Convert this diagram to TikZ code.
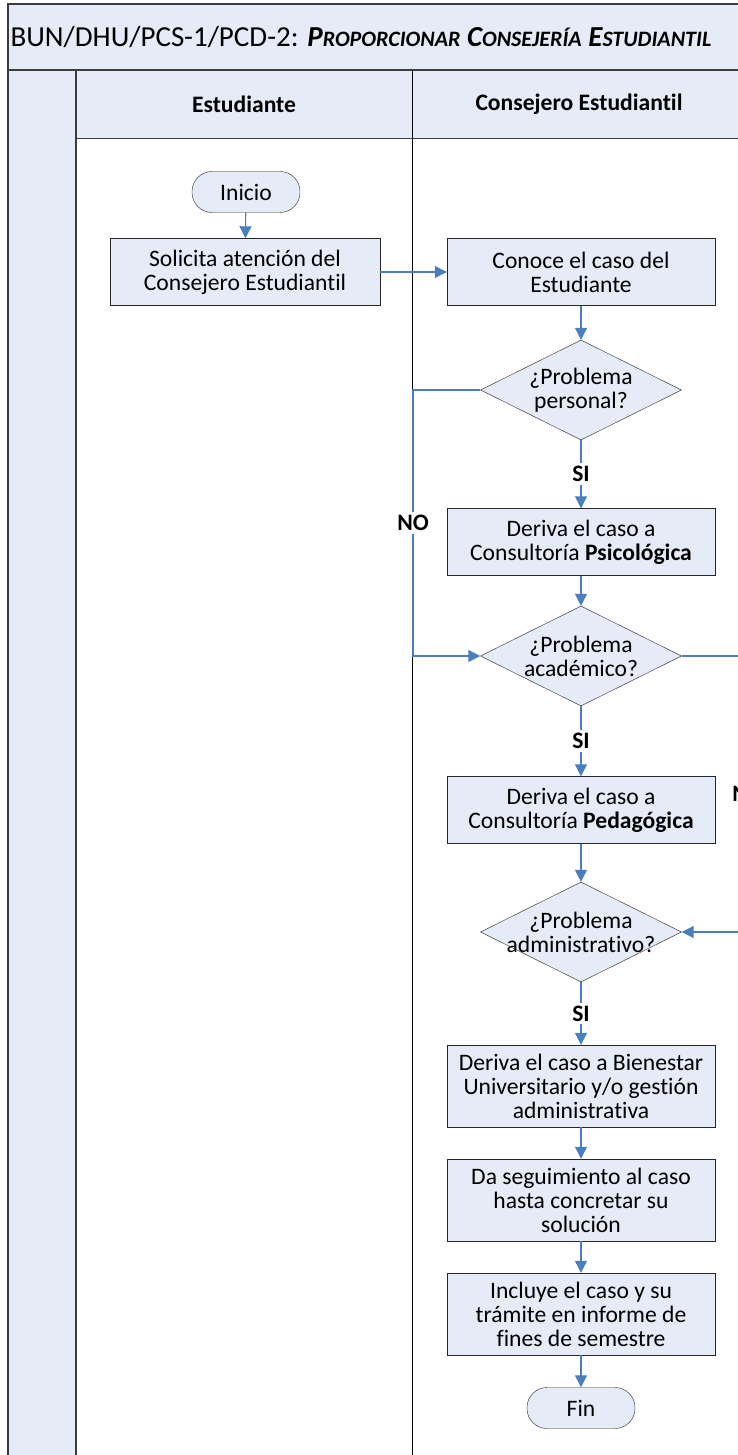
\documentclass[tikz,border=0pt]{standalone}
\usepackage{fontspec}
\setmainfont{Carlito}[Ligatures=NoCommon]
\usetikzlibrary{arrows.meta,shapes.geometric}
\definecolor{boxfill}{RGB}{230,236,247}
\definecolor{flowblue}{RGB}{74,126,188}
\definecolor{framegray}{RGB}{60,60,60}
\newcommand{\petitcaps}[1]{{\fontsize{22}{26}\selectfont #1}}
\begin{document}
\begin{tikzpicture}[x=1pt,y=-1pt,
		every node/.style={font=\fontsize{23.6}{24}\selectfont},
		proc/.style={draw=black!85,fill=boxfill,align=center,minimum width=268pt,minimum height=67pt,inner sep=2pt},
		proc3/.style={proc,minimum height=82pt},
		term/.style={draw=black!85,fill=boxfill,rounded corners=20pt,minimum width=108pt,minimum height=41pt},
		decision/.style={diamond,draw=black!85,fill=boxfill,minimum width=201pt,minimum height=100pt,inner sep=0pt},
		dtext/.style={align=center,inner sep=0pt},
		flow/.style={flowblue,line width=1.1pt,-{Triangle[length=12pt,width=12pt]}},
		lbl/.style={fill=white,text=black,font=\fontsize{23.6}{24}\selectfont\bfseries,inner sep=3pt}]
		\clip (0,0) rectangle (738,1455);
		
		% swimlane frame
		\fill[boxfill] (8,4) rectangle (770,138);
		\fill[boxfill] (8,138) rectangle (76,1460);
		\draw[framegray,line width=1.3pt] (770,4) -- (8,4) -- (8,1460);
		\draw[framegray,line width=1.3pt] (8,70) -- (770,70);
		\draw[framegray,line width=1.3pt] (76,70) -- (76,1460);
		\draw[framegray] (76,138) -- (770,138);
		\draw (412,70) -- (412,1460);
		
		\node[anchor=west,font=\fontsize{29}{32}\selectfont] (titulo) at (7,37) {BUN/DHU/PCS-1/PCD-2: \textbf{\textit{P\petitcaps{ROPORCIONAR} C\petitcaps{ONSEJERÍA} E\petitcaps{STUDIANTIL}}}};
		\node[font=\fontsize{23.6}{24}\selectfont\bfseries] (hdrEst) at (244,104) {Estudiante};
		\node[font=\fontsize{23.6}{24}\selectfont\bfseries] (hdrCons) at (579,104) {Consejero Estudiantil};
		
		% steps
		\node[term] (inicio) at (246,192) {Inicio};
		\node[proc,minimum width=270pt] (solicita) at (245,272) {Solicita atención del\\Consejero Estudiantil};
		\node[proc] (conoce) at (581,272) {Conoce el caso del\\Estudiante};
		\node[decision,label={[dtext]center:{¿Problema\\personal?}}] (personal) at (581,390) {};
		\node[proc] (psico) at (581,542) {Deriva el caso a\\Consultoría \textbf{Psicológica}};
		\node[decision,label={[dtext]center:{¿Problema\\académico?}}] (academico) at (581,656) {};
		\node[proc] (pedago) at (581,810) {Deriva el caso a\\Consultoría \textbf{Pedagógica}};
		\node[decision,label={[dtext]center:{¿Problema\\administrativo?}}] (admin) at (581,932) {};
		\node[proc3] (bienestar) at (581,1086) {Deriva el caso a Bienestar\\Universitario y/o gestión\\administrativa};
		\node[proc3] (seguim) at (581,1200) {Da seguimiento al caso\\hasta concretar su\\solución};
		\node[proc3] (informe) at (581,1314) {Incluye el caso y su\\trámite en informe de\\fines de semestre};
		\node[term] (fin) at (581,1408) {Fin};
		
		\coordinate (noL) at (413,0);
		\coordinate (noR) at (748,0);
		
		% connectors
		\draw[flow] (inicio) -- (solicita);
		\draw[flow] (solicita) -- (conoce);
		\draw[flow] (conoce) -- (personal);
		\draw[flow] (personal) -- node[lbl]{SI} (psico);
		\draw[flow] (psico) -- (academico);
		\draw[flow] (academico) -- node[lbl]{SI} (pedago);
		\draw[flow] (pedago) -- (admin);
		\draw[flow] (admin) -- node[lbl]{SI} (bienestar);
		\draw[flow] (bienestar) -- (seguim);
		\draw[flow] (seguim) -- (informe);
		\draw[flow] (informe) -- (fin);
		\draw[flow] (personal.west) -- (personal.west -| noL) -- node[lbl]{NO} (academico.west -| noL) -- (academico.west);
		\draw[flow] (academico.east) -- (academico.east -| noR) -- node[lbl]{NO} (admin.east -| noR) -- (admin.east);
\end{tikzpicture}
\end{document}
